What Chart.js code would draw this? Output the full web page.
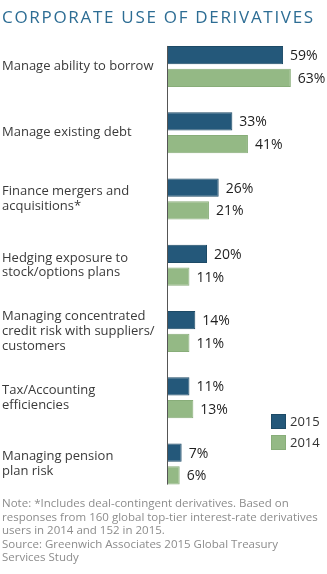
<!DOCTYPE html>
<html>
<head>
<meta charset="utf-8">
<script src="https://cdn.jsdelivr.net/npm/chart.js@4.4.1/dist/chart.umd.min.js"></script>
<style>
  html, body { margin: 0; padding: 0; background: #fff; }
  #wrap { position: relative; width: 327px; height: 574px; }
</style>
</head>
<body>
<div id="wrap"><canvas id="derivChart"></canvas></div>
<script>
const categories = [
  'Manage ability to borrow',
  'Manage existing debt',
  ['Finance mergers and', 'acquisitions*'],
  ['Hedging exposure to', 'stock/options plans'],
  ['Managing concentrated', 'credit risk with suppliers/', 'customers'],
  ['Tax/Accounting', 'efficiencies'],
  ['Managing pension', 'plan risk'],
];
const values2015 = [59, 33, 26, 20, 14, 11, 7];
const values2014 = [63, 41, 21, 11, 11, 13, 6];
const seriesLabels = ['2015', '2014'];
const noteLines = [
  'Note: *Includes deal-contingent derivatives. Based on',
  'responses from 160 global top-tier interest-rate derivatives',
  'users in 2014 and 152 in 2015.',
  'Source: Greenwich Associates 2015 Global Treasury',
  'Services Study',
];

const BLUE = '#24587a';
const GREEN = '#94b985';
const FONT = "'Open Sans', 'Liberation Sans', sans-serif";

// value labels at the end of each bar
const valueLabels = {
  id: 'valueLabels',
  afterDatasetsDraw(chart) {
    const { ctx } = chart;
    ctx.save();
    ctx.font = `14px ${FONT}`;
    ctx.fillStyle = '#1e1e1e';
    ctx.textAlign = 'left';
    ctx.textBaseline = 'middle';
    chart.data.datasets.forEach((ds, i) => {
      chart.getDatasetMeta(i).data.forEach((bar, j) => {
        ctx.fillText(ds.data[j] + '%', bar.x + 7, bar.y + 1);
      });
    });
    ctx.restore();
  },
};

// vertical baseline spanning the bars only
const baseLine = {
  id: 'baseLine',
  afterDatasetsDraw(chart) {
    const first = chart.getDatasetMeta(0).data[0];
    const lastMeta = chart.getDatasetMeta(chart.data.datasets.length - 1).data;
    const last = lastMeta[lastMeta.length - 1];
    if (!first || !last) return;
    const x = chart.scales.x.getPixelForValue(0);
    const { ctx } = chart;
    ctx.save();
    ctx.strokeStyle = '#555';
    ctx.lineWidth = 1;
    ctx.beginPath();
    ctx.moveTo(x - 0.5, first.y - first.height / 2);
    ctx.lineTo(x - 0.5, last.y + last.height / 2);
    ctx.stroke();
    ctx.restore();
  },
};

// small legend at lower right
const cornerLegend = {
  id: 'cornerLegend',
  afterDraw(chart) {
    const { ctx } = chart;
    ctx.save();
    ctx.font = `13px ${FONT}`;
    ctx.textBaseline = 'middle';
    chart.data.datasets.forEach((ds, i) => {
      const y = 414 + i * 21;
      ctx.fillStyle = ds.backgroundColor;
      ctx.fillRect(271, y, 15, 15);
      ctx.strokeStyle = ds.borderColor;
      ctx.lineWidth = 1;
      ctx.strokeRect(271.5, y + 0.5, 14, 14);
      ctx.fillStyle = '#333';
      ctx.fillText(ds.label, 290, y + 8);
    });
    ctx.restore();
  },
};

// wider tracking for the title only
const spacedTitle = {
  id: 'spacedTitle',
  afterLayout(chart) {
    const tb = chart.titleBlock;
    if (!tb || tb._spaced) return;
    const orig = tb.draw.bind(tb);
    tb.draw = function () {
      const ctx = chart.ctx;
      ctx.save();
      ctx.letterSpacing = '1.7px';
      orig();
      ctx.restore();
    };
    tb._spaced = true;
  },
};

new Chart(document.getElementById('derivChart'), {
  type: 'bar',
  data: {
    labels: categories,
    datasets: [
      { label: seriesLabels[0], data: values2015, backgroundColor: BLUE, borderColor: '#1d4a66', borderWidth: 1 },
      { label: seriesLabels[1], data: values2014, backgroundColor: GREEN, borderColor: '#88ad79', borderWidth: 1 },
    ],
  },
  options: {
    indexAxis: 'y',
    responsive: true,
    maintainAspectRatio: false,
    animation: false,
    datasets: { bar: { categoryPercentage: 0.69, barPercentage: 0.8 } },
    layout: { padding: { left: 2, right: 3, top: 6, bottom: 9 } },
    plugins: {
      legend: { display: false },
      tooltip: { enabled: false },
      title: {
        display: true,
        text: 'CORPORATE USE OF DERIVATIVES',
        align: 'start',
        color: '#2d6d94',
        font: { family: FONT, size: 17, weight: '500' },
        padding: { top: 2, bottom: 5 },
      },
      subtitle: {
        display: true,
        position: 'bottom',
        text: noteLines,
        align: 'start',
        color: '#8c8c8c',
        font: { family: FONT, size: 11.5, lineHeight: 1.18 },
        padding: 0,
      },
    },
    scales: {
      x: { display: false, min: 0, max: 80 },
      y: {
        grid: { display: false },
        border: { display: false },
        afterFit(scale) { scale.width = 166; },
        ticks: {
          crossAlign: 'far',
          padding: 0,
          color: '#3a3a3a',
          font: { family: FONT, size: 13, lineHeight: 1.15 },
        },
      },
    },
  },
  plugins: [spacedTitle, baseLine, valueLabels, cornerLegend],
});
</script>
</body>
</html>
